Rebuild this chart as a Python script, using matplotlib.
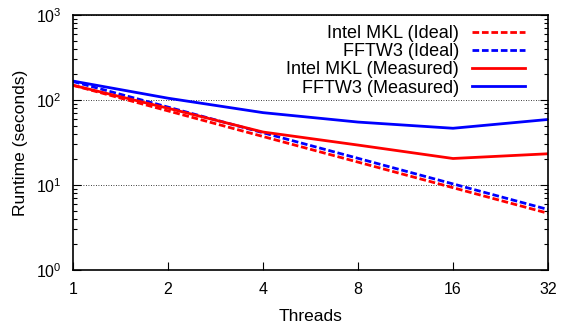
import matplotlib
matplotlib.use("Agg")
import matplotlib.pyplot as plt
from matplotlib.ticker import LogLocator, FixedLocator, NullFormatter, NullLocator

plt.rcParams["font.family"] = ["Liberation Sans", "DejaVu Sans"]
plt.rcParams["mathtext.fontset"] = "custom"
plt.rcParams["mathtext.rm"] = "Liberation Sans"

# ── Data ──────────────────────────────────────────────────────────────────────
threads       = [1, 2, 4, 8, 16, 32]
mkl_ideal     = [149, 74.5, 37.2, 18.6, 9.3, 4.65]
fftw_ideal    = [165, 82.5, 41.2, 20.6, 10.3, 5.15]
mkl_measured  = [149, 80, 42, 29.5, 20.5, 23.3]
fftw_measured = [167, 105, 71, 55, 46.5, 59]

RED  = "#ff0000"
BLUE = "#0000ff"

fig = plt.figure(figsize=(5.64, 3.24), dpi=100)
ax = fig.add_axes([73 / 564, 54 / 324, 475 / 564, 255 / 324])

LW   = 2.0
dash = (2.4, 1.0)
ax.plot(threads, mkl_ideal, color=RED, lw=LW, dashes=dash, label="Intel MKL (Ideal)")
ax.plot(threads, fftw_ideal, color=BLUE, lw=LW, dashes=dash, label="FFTW3 (Ideal)")
ax.plot(threads, mkl_measured, color=RED, lw=LW, label="Intel MKL (Measured)")
ax.plot(threads, fftw_measured, color=BLUE, lw=LW, label="FFTW3 (Measured)")

ax.set_xscale("log", base=2)
ax.set_yscale("log")
ax.set_xlim(1, 32)
ax.set_ylim(1, 1000)

ax.xaxis.set_major_locator(FixedLocator(threads))
ax.set_xticklabels([str(t) for t in threads])
ax.xaxis.set_minor_locator(NullLocator())
ax.yaxis.set_major_locator(LogLocator(base=10))
ax.yaxis.set_minor_locator(LogLocator(base=10, subs=range(2, 10)))
ax.yaxis.set_minor_formatter(NullFormatter())

ax.tick_params(axis="both", which="both", direction="in", labelsize=11.5)
ax.tick_params(axis="y", which="both", right=True)
ax.tick_params(axis="x", which="major", length=6, width=0.8, pad=9)
ax.tick_params(axis="y", which="major", length=6, width=0.8, pad=8)
ax.tick_params(axis="y", which="minor", length=3, width=0.8)

for sp in ax.spines.values():
    sp.set_linewidth(1.2)

ax.grid(axis="y", which="major", color="black", linestyle=(0, (1, 2)), linewidth=0.6)

ax.set_xlabel("Threads", fontsize=12.5, labelpad=8)
ax.set_ylabel("Runtime (seconds)", fontsize=12.5, labelpad=6)

ax.legend(loc="upper right", frameon=False, markerfirst=False, fontsize=13,
          handlelength=2.9, handletextpad=0.75, labelspacing=0.07,
          borderaxespad=0.15, bbox_to_anchor=(0.972, 1.0))

fig.savefig("out.png", dpi=100)
